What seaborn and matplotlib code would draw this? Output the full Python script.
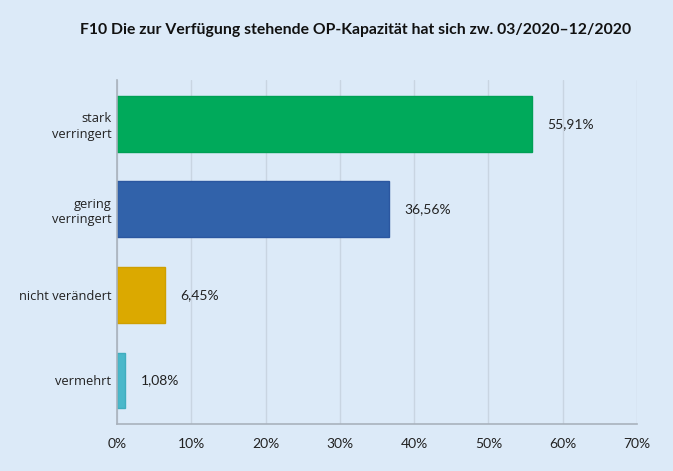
import matplotlib.pyplot as plt
import pandas as pd
import seaborn as sns

# Data
categories = ["stark\nverringert", "gering\nverringert", "nicht verändert", "vermehrt"]
shares = [55.91, 36.56, 6.45, 1.08]
value_labels = ["55,91%", "36,56%", "6,45%", "1,08%"]
x_ticks = [0, 10, 20, 30, 40, 50, 60, 70]
bar_colors = ["#00aa5b", "#3162aa", "#dba900", "#4ab8ca"]
edge_colors = ["#00a055", "#2b57a0", "#cf9f00", "#40adbf"]

bg = "#dceaf8"
narrow = ["Lato", "DejaVu Sans"]

df = pd.DataFrame({"category": categories, "share": shares})

sns.set_style("white")
plt.rcParams["font.family"] = narrow

fig = plt.figure(figsize=(6.73, 4.71), dpi=100, facecolor=bg)
ax = fig.add_axes([0.174, 0.0998, 0.7725, 0.7302])
ax.set_facecolor(bg)

sns.barplot(
    data=df, x="share", y="category", hue="category",
    palette=bar_colors, order=categories, width=0.65, saturation=1,
    legend=False, ax=ax, orient="h",
)
for patch, ec in zip(ax.patches, edge_colors):
    patch.set_edgecolor(ec)
    patch.set_linewidth(1)

# value labels to the right of each bar
for i, (val, lab) in enumerate(zip(shares, value_labels)):
    ax.annotate(lab, xy=(val, i), xytext=(11, 0), textcoords="offset points",
                ha="left", va="center", fontsize=10, color="#222222")

ax.set_xlim(0, 70)
ax.set_ylim(3.51, -0.51)
ax.set_xticks(x_ticks)
ax.set_xticklabels([f"{t}%" for t in x_ticks])
ax.set_xlabel("")
ax.set_ylabel("")

ax.grid(axis="x", color="#c9d5e2", linewidth=1)
ax.grid(axis="y", visible=False)
ax.set_axisbelow(True)

for side in ["top", "right"]:
    ax.spines[side].set_visible(False)
for side in ["left", "bottom"]:
    ax.spines[side].set_color("#a9b2bc")
    ax.spines[side].set_linewidth(1.2)

ax.tick_params(axis="x", length=0, pad=10, labelsize=10, labelcolor="#222222")
ax.tick_params(axis="y", length=0, pad=4, labelcolor="#222222")
for lab in ax.get_yticklabels():
    lab.set_family(["Open Sans", "DejaVu Sans"])
    lab.set_fontsize(9.3)
    lab.set_linespacing(1.25)

fig.text(0.528, 0.936, "F10 Die zur Verfügung stehende OP-Kapazität hat sich zw. 03/2020–12/2020",
         ha="center", va="center", fontsize=11.3, fontweight="bold", color="#111111")

fig.savefig("out.png", dpi=100, facecolor=bg)
